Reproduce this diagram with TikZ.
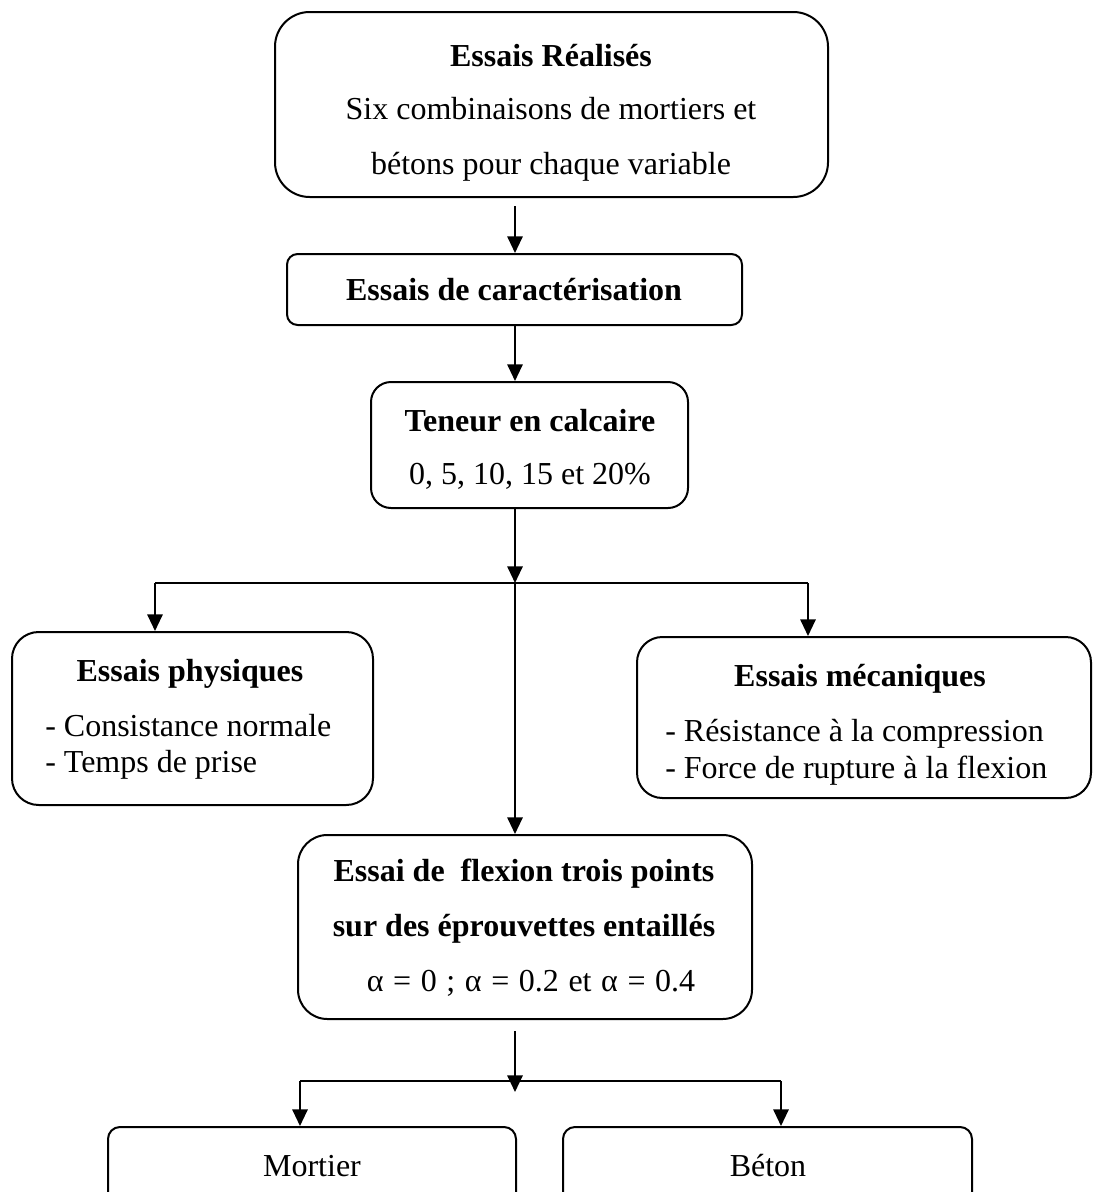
\documentclass[tikz,border=0pt]{standalone}
\usepackage{fontspec}
\setmainfont{Liberation Serif}
\usetikzlibrary{arrows.meta,fit}
\begin{document}
\begin{tikzpicture}[x=0.75pt,y=-0.75pt,
  box/.style={draw,line width=1.5pt,rounded corners=#1,inner sep=0pt},
  box/.default=20pt,
  arr/.style={line width=1.5pt,-{Triangle[width=11.5pt,length=12.5pt]}},
  ln/.style={line width=1.5pt},
  txt/.style={font=\fontsize{24pt}{28pt}\selectfont,inner sep=0pt,anchor=base},
  bt/.style={txt,font=\fontsize{24pt}{28pt}\selectfont\bfseries}]
\useasboundingbox (0,0) rectangle (1093,1192);
\clip (0,0) rectangle (1093,1192);
% boxes
\node[box=26pt,fit={(275,12)(828,197)}] (b1) {};
\node[box=8pt,fit={(287,254)(742,325)}] (b2) {};
\node[box=15pt,fit={(371,382)(688,508)}] (b3) {};
\node[box=20pt,fit={(12,632)(373,805)}] (b4) {};
\node[box=19pt,fit={(637,637)(1091,798)}] (b5) {};
\node[box=22pt,fit={(298,835)(752,1019)}] (b6) {};
\node[box=9pt,fit={(108,1127)(516,1215)}] (b7) {};
\node[box=9pt,fit={(563,1127)(972,1215)}] (b8) {};
% texts
\node[bt] (t1a) at (551,66) {Essais Réalisés};
\node[txt] (t1b) at (551,119) {Six combinaisons de mortiers et};
\node[txt] (t1c) at (551,174) {bétons pour chaque variable};
\node[bt] (t2) at (514,300) {Essais de caractérisation};
\node[bt] (t3a) at (530,431) {Teneur en calcaire};
\node[txt] (t3b) at (530,484) {0, 5, 10, 15 et 20\%};
\node[bt] (t4a) at (190,681) {Essais physiques};
\node[txt,anchor=base west] (t4b) at (45,736) {- Consistance normale};
\node[txt,anchor=base west] (t4c) at (45,772) {- Temps de prise};
\node[bt] (t5a) at (860,686) {Essais mécaniques};
\node[txt,anchor=base west] (t5b) at (665,741) {- Résistance à la compression};
\node[txt,anchor=base west] (t5c) at (665,778) {- Force de rupture à la flexion};
\node[bt] (t6a) at (524,881) {Essai de\ \ flexion trois points};
\node[bt] (t6b) at (524,936) {sur des éprouvettes entaillés};
\node[txt] (t6c) at (531,991) {\spaceskip=0.3em α = 0 ; α = 0.2 et α = 0.4};
\node[txt] (t7) at (312,1176) {Mortier};
\node[txt] (t8) at (768,1176) {Béton};
% connectors
\coordinate (ja) at (515,583);
\coordinate (jl) at (155,583);
\coordinate (jr) at (808,583);
\coordinate (kt) at (515,1092);
\coordinate (kl) at (300,1081);
\coordinate (kr) at (781,1081);
\draw[arr] (ja |- b1.south) ++(0,8) -- (ja |- b2.north);
\draw[arr] (ja |- b2.south) -- (ja |- b3.north);
\draw[arr] (ja |- b3.south) -- (ja);
\draw[ln] (jl) -- (jr);
\draw[arr] (jl) -- (jl |- b4.north);
\draw[arr] (jr) -- (jr |- b5.north);
\draw[arr] (ja) -- (ja |- b6.north);
\draw[arr] (ja |- b6.south) ++(0,11) -- (kt);
\draw[ln] (kl) -- (kr);
\draw[arr] (kl) -- (kl |- b7.north);
\draw[arr] (kr) -- (kr |- b8.north);
\end{tikzpicture}
\end{document}
